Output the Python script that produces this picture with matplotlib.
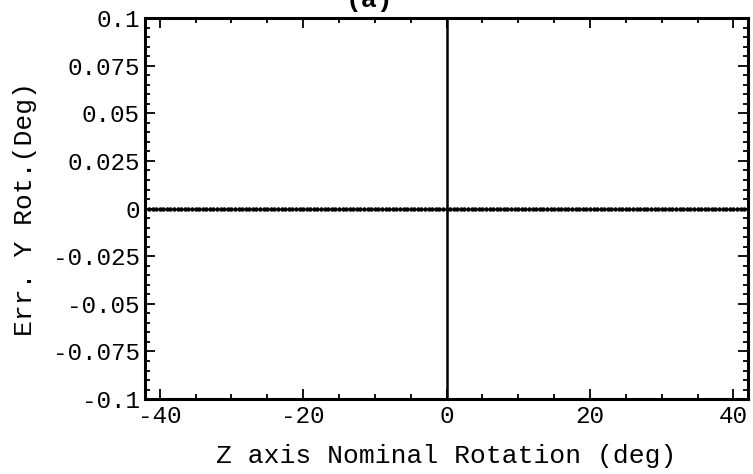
import numpy as np
import matplotlib.pyplot as plt
from matplotlib.ticker import MultipleLocator, FixedLocator

# datos (a)
nominal_rotation = np.arange(-42, 42.5, 0.5)   # deg
err_y_rot = [0.0] * len(nominal_rotation)      # deg, todo en cero

x_ticks = [-40, -20, 0, 20, 40]
x_tick_labels = ['-40', '-20', '0', '20', '40']
y_ticks = [0.1, 0.075, 0.05, 0.025, 0, -0.025, -0.05, -0.075, -0.1]
y_tick_labels = ['0.1', '0.075', '0.05', '0.025', '0',
                 '-0.025', '-0.05', '-0.075', '-0.1']


def main():
    plt.rcParams['font.family'] = ['Liberation Mono', 'DejaVu Sans Mono']

    figure = plt.figure(figsize=(7.53, 4.74), dpi=100)
    axes = figure.add_axes([0.193, 0.158, 0.800, 0.804])

    axes.axhline(0, color='black', linewidth=0.8)
    axes.plot(nominal_rotation, err_y_rot, linestyle='none', marker='o',
              markersize=3.2, markeredgewidth=0, color='black')
    axes.axvline(0, color='black', linewidth=1.8)

    axes.set_xlim(-42, 42)
    axes.set_ylim(-0.1, 0.1)

    axes.xaxis.set_major_locator(FixedLocator(x_ticks))
    axes.set_xticklabels(x_tick_labels)
    axes.yaxis.set_major_locator(FixedLocator(y_ticks))
    axes.set_yticklabels(y_tick_labels)
    axes.xaxis.set_minor_locator(MultipleLocator(5))
    axes.yaxis.set_minor_locator(MultipleLocator(0.005))

    axes.tick_params(which='both', direction='in', top=True, right=True,
                     color='black', width=1.3)
    axes.tick_params(which='major', length=7, labelsize=17.5, pad=4)
    axes.tick_params(which='minor', length=3.5)

    for spine in axes.spines.values():
        spine.set_linewidth(2.2)

    axes.set_xlabel('Z axis Nominal Rotation (deg)', fontsize=19)
    axes.xaxis.set_label_coords(0.5, -0.118)
    axes.set_ylabel('Err. Y Rot.(Deg)', fontsize=19)
    axes.yaxis.set_label_coords(-0.18, 0.5)

    figure.text(0.49, 1.0, '(a)', fontsize=19, fontweight='bold',
                ha='center', va='center')

    figure.savefig('out.png', dpi=100)


if __name__ == '__main__':
    main()
